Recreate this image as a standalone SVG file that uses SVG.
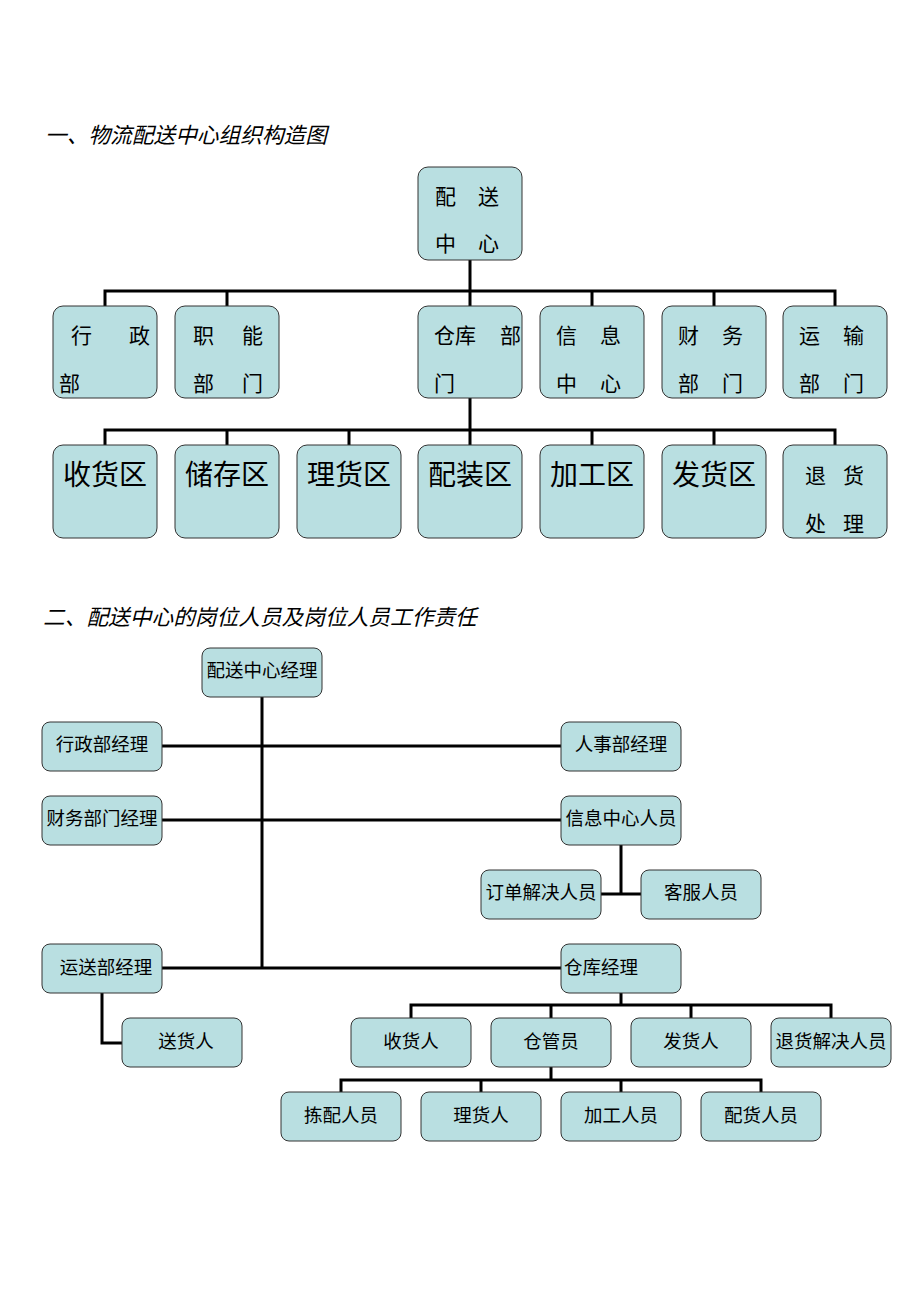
<svg xmlns="http://www.w3.org/2000/svg" width="920" height="1302" viewBox="0 0 920 1302">
<style>
text{font-family:"Liberation Sans","Noto Sans CJK SC",sans-serif;fill:#000}
.t{font-size:21.7px;font-style:italic}
.b{fill:#b9dfe1;stroke:#333;stroke-width:1}
.m{font-size:21px}
.l{font-size:28px;text-anchor:middle}
.s{font-size:18.5px;text-anchor:middle}
.c{stroke:#000;stroke-width:3;fill:none}
</style>
<rect width="920" height="1302" fill="#fff"/>
<text class="t" x="45" y="143">一、物流配送中心组织构造图</text>
<text class="t" x="43" y="625">二、配送中心的岗位人员及岗位人员工作责任</text>
<g id="connectors">
<path class="c" d="M470 260V306M105 306V291H835V306M227 291V306M592 291V306M714 291V306"/>
<path class="c" d="M470 398V445M105 445V430H835V445M227 430V445M349 430V445M592 430V445M714 430V445"/>
<path class="c" d="M262 697V968M162 746H561M162 820H561M162 968H561M621 845V894M601 894H641M102 993V1043H122M621 993V1005M411 1018V1005H831V1018M551 1005V1018M691 1005V1018M551 1067V1080M341 1092V1080H761V1092M481 1080V1092M621 1080V1092"/>
</g>
<g id="n-root"><rect class="b" x="418" y="167" width="104" height="93" rx="10"/><text class="m" x="435" y="204">配</text><text class="m" x="478" y="204">送</text><text class="m" x="435" y="251">中</text><text class="m" x="478" y="251">心</text></g>
<g id="n-xz"><rect class="b" x="53" y="306" width="104" height="92" rx="10"/><text class="m" x="71" y="343">行</text><text class="m" x="129" y="343">政</text><text class="m" x="59" y="391">部</text></g>
<g id="n-zn"><rect class="b" x="175" y="306" width="104" height="92" rx="10"/><text class="m" x="193" y="343">职</text><text class="m" x="242" y="343">能</text><text class="m" x="193" y="391">部</text><text class="m" x="242" y="391">门</text></g>
<g id="n-ck"><rect class="b" x="418" y="306" width="104" height="92" rx="10"/><text class="m" x="434" y="343">仓库</text><text class="m" x="500" y="343">部</text><text class="m" x="434" y="391">门</text></g>
<g id="n-xx"><rect class="b" x="540" y="306" width="104" height="92" rx="10"/><text class="m" x="556" y="343">信</text><text class="m" x="600" y="343">息</text><text class="m" x="556" y="391">中</text><text class="m" x="600" y="391">心</text></g>
<g id="n-cw"><rect class="b" x="662" y="306" width="104" height="92" rx="10"/><text class="m" x="678" y="343">财</text><text class="m" x="722" y="343">务</text><text class="m" x="678" y="391">部</text><text class="m" x="722" y="391">门</text></g>
<g id="n-ys"><rect class="b" x="783" y="306" width="104" height="92" rx="10"/><text class="m" x="799" y="343">运</text><text class="m" x="843" y="343">输</text><text class="m" x="799" y="391">部</text><text class="m" x="843" y="391">门</text></g>
<g id="n-sh"><rect class="b" x="53" y="445" width="104" height="93" rx="10"/><text class="l" x="105" y="485">收货区</text></g>
<g id="n-cc"><rect class="b" x="175" y="445" width="104" height="93" rx="10"/><text class="l" x="227" y="485">储存区</text></g>
<g id="n-lh"><rect class="b" x="297" y="445" width="104" height="93" rx="10"/><text class="l" x="349" y="485">理货区</text></g>
<g id="n-pz"><rect class="b" x="418" y="445" width="104" height="93" rx="10"/><text class="l" x="470" y="485">配装区</text></g>
<g id="n-jg"><rect class="b" x="540" y="445" width="104" height="93" rx="10"/><text class="l" x="592" y="485">加工区</text></g>
<g id="n-fh"><rect class="b" x="662" y="445" width="104" height="93" rx="10"/><text class="l" x="714" y="485">发货区</text></g>
<g id="n-th"><rect class="b" x="783" y="445" width="104" height="93" rx="10"/><text class="m" x="805" y="483">退</text><text class="m" x="843" y="483">货</text><text class="m" x="805" y="531">处</text><text class="m" x="843" y="531">理</text></g>
<g id="p-zjl"><rect class="b" x="202" y="648" width="120" height="49" rx="8"/><text class="s" x="262" y="677">配送中心经理</text></g>
<g id="p-xz"><rect class="b" x="42" y="722" width="120" height="49" rx="8"/><text class="s" x="102" y="751">行政部经理</text></g>
<g id="p-rs"><rect class="b" x="561" y="722" width="120" height="49" rx="8"/><text class="s" x="621" y="751">人事部经理</text></g>
<g id="p-cw"><rect class="b" x="42" y="796" width="120" height="49" rx="8"/><text class="s" x="102" y="825">财务部门经理</text></g>
<g id="p-xx"><rect class="b" x="561" y="796" width="120" height="49" rx="8"/><text class="s" x="621" y="825">信息中心人员</text></g>
<g id="p-dd"><rect class="b" x="481" y="870" width="120" height="49" rx="8"/><text class="s" x="541" y="899">订单解决人员</text></g>
<g id="p-kf"><rect class="b" x="641" y="870" width="120" height="49" rx="8"/><text class="s" x="701" y="899">客服人员</text></g>
<g id="p-ys"><rect class="b" x="42" y="944" width="120" height="49" rx="8"/><text class="s" x="106" y="974">运送部经理</text></g>
<g id="p-ck"><rect class="b" x="561" y="944" width="120" height="49" rx="8"/><text class="s" x="564" y="974" style="text-anchor:start">仓库经理</text></g>
<g id="p-sh2"><rect class="b" x="122" y="1018" width="120" height="49" rx="8"/><text class="s" x="186" y="1048">送货人</text></g>
<g id="p-shr"><rect class="b" x="351" y="1018" width="120" height="49" rx="8"/><text class="s" x="411" y="1048">收货人</text></g>
<g id="p-cgy"><rect class="b" x="491" y="1018" width="120" height="49" rx="8"/><text class="s" x="551" y="1048">仓管员</text></g>
<g id="p-fhr"><rect class="b" x="631" y="1018" width="120" height="49" rx="8"/><text class="s" x="691" y="1048">发货人</text></g>
<g id="p-th"><rect class="b" x="771" y="1018" width="120" height="49" rx="8"/><text class="s" x="831" y="1048">退货解决人员</text></g>
<g id="p-jp"><rect class="b" x="281" y="1092" width="120" height="49" rx="8"/><text class="s" x="341" y="1122">拣配人员</text></g>
<g id="p-lh"><rect class="b" x="421" y="1092" width="120" height="49" rx="8"/><text class="s" x="481" y="1122">理货人</text></g>
<g id="p-jg"><rect class="b" x="561" y="1092" width="120" height="49" rx="8"/><text class="s" x="621" y="1122">加工人员</text></g>
<g id="p-ph"><rect class="b" x="701" y="1092" width="120" height="49" rx="8"/><text class="s" x="761" y="1122">配货人员</text></g>
</svg>
